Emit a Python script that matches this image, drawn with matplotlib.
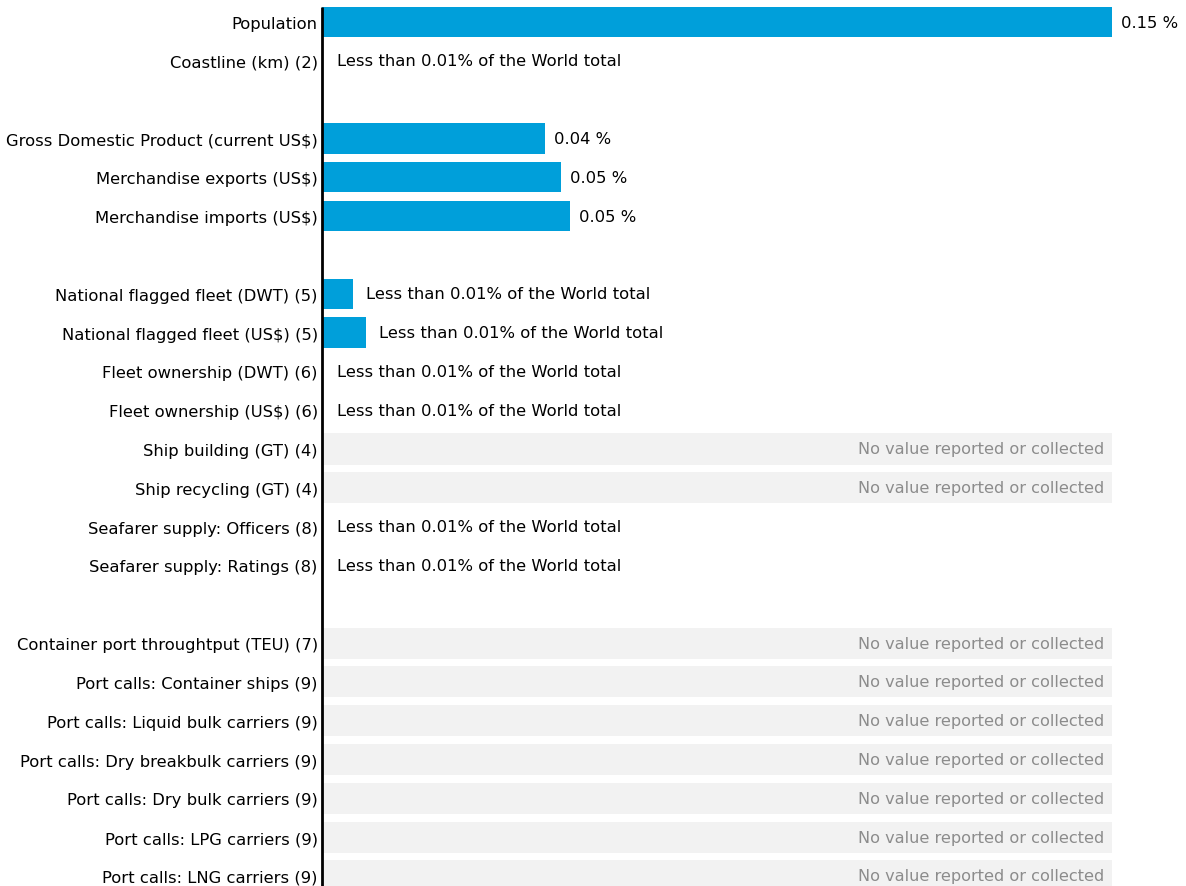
import matplotlib
matplotlib.use("Agg")
import matplotlib.pyplot as plt

categories = [
    "Population", "Coastline (km) (2)", "",
    "Gross Domestic Product (current US$)", "Merchandise exports (US$)", "Merchandise imports (US$)", "",
    "National flagged fleet (DWT) (5)", "National flagged fleet (US$) (5)",
    "Fleet ownership (DWT) (6)", "Fleet ownership (US$) (6)",
    "Ship building (GT) (4)", "Ship recycling (GT) (4)",
    "Seafarer supply: Officers (8)", "Seafarer supply: Ratings (8)", "",
    "Container port throughtput (TEU) (7)", "Port calls: Container ships (9)",
    "Port calls: Liquid bulk carriers (9)", "Port calls: Dry breakbulk carriers (9)",
    "Port calls: Dry bulk carriers (9)", "Port calls: LPG carriers (9)", "Port calls: LNG carriers (9)",
]
# share of world total (%), None = no bar
values = [0.15, 0.0, None,
          0.0423, 0.0454, 0.047, None,
          0.0059, 0.0084, 0.0, 0.0, None, None, 0.0, 0.0, None,
          None, None, None, None, None, None, None]
# label kind: 'lt' -> less than, 'nv' -> no value, '' -> nothing, else value text
labels = ["0.15 %", "lt", "",
          "0.04 %", "0.05 %", "0.05 %", "",
          "lt", "lt", "lt", "lt", "nv", "nv", "lt", "lt", "",
          "nv", "nv", "nv", "nv", "nv", "nv", "nv"]

BLUE = "#009FDA"
GREY_BG = "#F2F2F2"
FULL = 0.15
FS = 11.8
FS_NV = 11.6

fig = plt.figure(figsize=(11.86, 8.87), dpi=100)
ax = fig.add_axes([322 / 1186, 0, 1 - 322 / 1186, 1])
step = 854 / 22
ax.set_ylim(22 + 10 / step, -23 / step)
ax.set_xlim(0, FULL * 864 / 790)
px = FULL / 790  # data units per pixel

for i, (cat, v, lab) in enumerate(zip(categories, values, labels)):
    if lab == "nv":
        ax.barh(i, FULL, height=0.8, color=GREY_BG, zorder=1)
        ax.text(FULL - 8 * px, i, "No value reported or collected", ha="right", va="center",
                fontsize=FS_NV, color="#8C8C8C")
        continue
    if v is not None and v > 0:
        ax.barh(i, v, height=0.78, color=BLUE, zorder=2)
    if lab == "lt":
        x0 = (v if v else 0) + (13 if v else 15) * px
        ax.text(x0, i, "Less than 0.01% of the World total", ha="left", va="center",
                fontsize=FS, color="black")
    elif lab:
        ax.text(v + 9 * px, i, lab, ha="left", va="center", fontsize=FS, color="black")

ax.set_yticks(range(len(categories)))
ax.set_yticklabels(categories, fontsize=FS)
ax.tick_params(axis="y", length=0, pad=3)
ax.set_xticks([])
for s in ax.spines.values():
    s.set_visible(False)
ax.plot([0, 0], [-0.39, 23], color="black", lw=2, zorder=3, clip_on=False, solid_capstyle="butt")

fig.savefig("out.png", dpi=100)
